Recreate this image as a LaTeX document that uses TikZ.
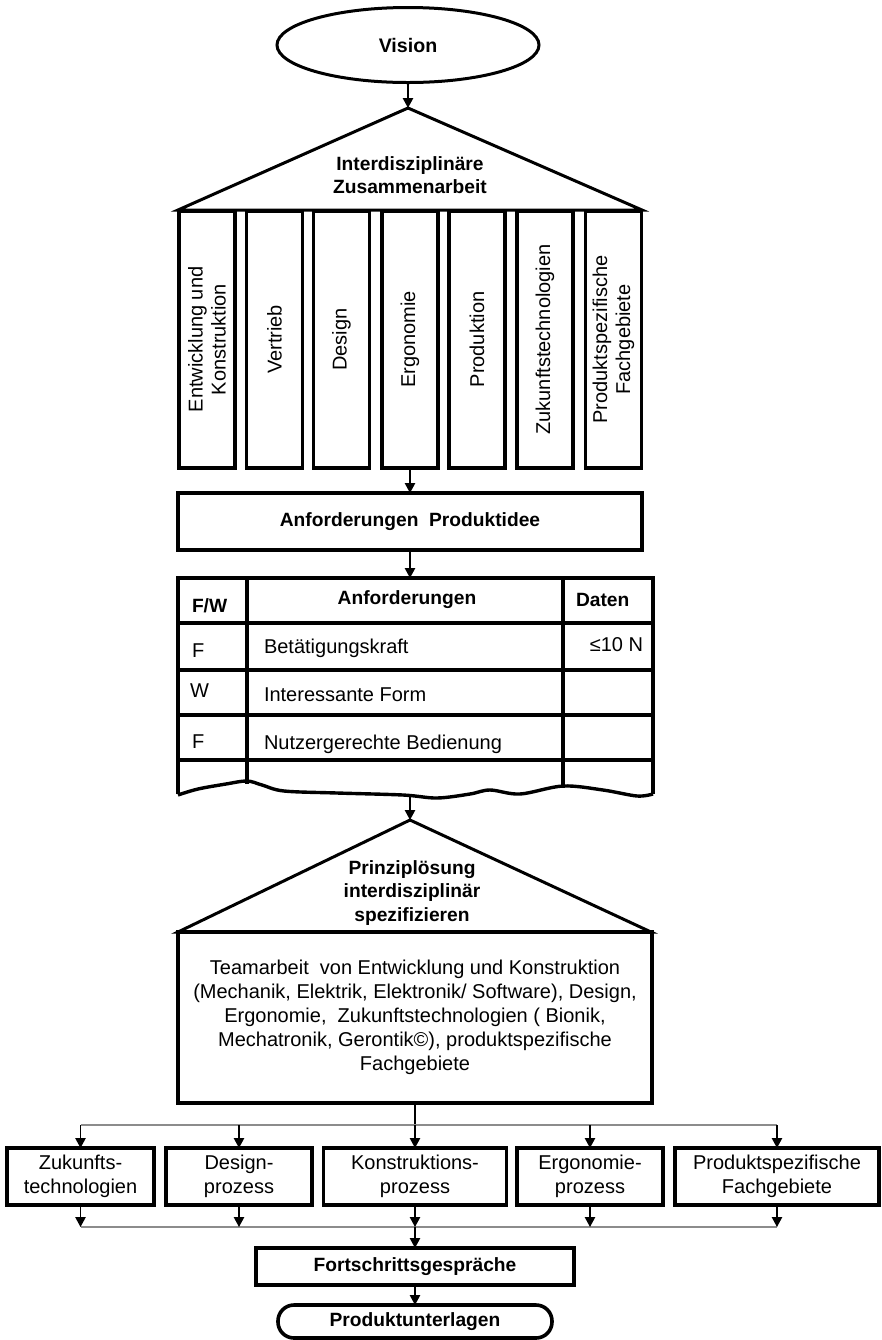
\documentclass[tikz,border=0pt]{standalone}
\usepackage{fontspec}
\setmainfont{Liberation Sans}
\usetikzlibrary{shapes.geometric,arrows.meta}

\begin{document}
\begin{tikzpicture}[x=0.5pt,y=-0.5pt,
  every node/.style={inner sep=0pt, outer sep=0pt},
  heavy/.style={draw, line width=1.8pt},
  box/.style={heavy, rectangle, align=center, font=\fontsize{10}{12}\selectfont},
  hbox/.style={box, font=\bfseries\fontsize{9.6}{11.5}\selectfont},
  pillar/.style={heavy, line width=1.7pt, rectangle, rotate=90,
    minimum width=128.5pt, minimum height=28pt, align=center,
    font=\fontsize{10}{11.5}\selectfont},
  roof/.style={line width=1.5pt, line join=miter},
  grid/.style={line width=1.7pt},
  arr/.style={-{Triangle[length=5pt,width=5.2pt]}, line width=0.7pt},
  bus/.style={line width=0.8pt, draw=black!45},
  cell/.style={font=\fontsize{10}{12}\selectfont},
  hcell/.style={font=\bfseries\fontsize{9.6}{12}\selectfont},
  rooftext/.style={align=center, font=\bfseries\fontsize{9.6}{11.6}\selectfont},
]
\useasboundingbox (0,0) rectangle (882,1340);

% --- vision
\node[heavy, line width=1.5pt, ellipse, minimum width=131pt, minimum height=37.5pt,
      font=\bfseries\fontsize{9.8}{12}\selectfont] (vision) at (408,45) {Vision};

% --- roof over the disciplines
\coordinate (r1top) at (408,108);
\coordinate (r1l) at (178,210);
\coordinate (r1r) at (642,210);
\draw[roof] (r1l) -- (r1top) -- (r1r) -- cycle;
\node[rooftext] (r1txt) at (410,175) {Interdisziplinäre\\Zusammenarbeit};
\draw[arr] (vision.south) -- (r1top);

% --- pillars
\node[pillar] (p1) at (207,339.5) {Entwicklung und\\Konstruktion};
\node[pillar] (p2) at (274.5,339.5) {Vertrieb};
\node[pillar] (p3) at (341.5,339.5) {Design};
\node[pillar] (p4) at (410,339.5) {Ergonomie};
\node[pillar] (p5) at (477,339.5) {Produktion};
\node[pillar] (p6) at (545,339.5) {Zukunftstechnologien};
\node[pillar] (p7) at (613.5,339.5) {Produktspezifische\\Fachgebiete};

% --- requirements
\node[hbox, minimum width=232pt, minimum height=28.5pt] (req) at (410,521.5)
  {Anforderungen\ \ Produktidee};
\draw[arr] (p4.west) -- (req.north);

% --- requirements list (torn off at the bottom)
\coordinate (tabtop) at (410,578);
\coordinate (tabbot) at (410,795);
\draw[arr] (req.south) -- (tabtop);
\draw[grid] (178,794) -- (178,578) -- (653,578) -- (653,794);
\foreach \yy in {623,670,715,760} \draw[grid] (178,\yy) -- (653,\yy);
\draw[grid] (247,578) -- (247,784);
\draw[grid] (563,578) -- (563,788);
\draw[grid, line join=round] plot[smooth, tension=0.55] coordinates
  {(178,795) (198,789) (226,784) (247,781) (262,785) (284,791) (337,793)
   (403,795) (437,798) (470,794) (490,790) (520,794) (563,786) (603,790)
   (637,796) (653,794)};

\node[hcell, anchor=base west] (hfw) at (192,612) {F/W};
\node[hcell, anchor=base] (hanf) at (407,604) {Anforderungen};
\node[hcell, anchor=base west] (hdat) at (576,606) {Daten};
\node[cell, anchor=base west] (c1a) at (192,657) {F};
\node[cell, anchor=base west] (c1b) at (264,653) {Betätigungskraft};
\node[cell, anchor=base east] (c1c) at (643,651) {≤10 N};
\node[cell, anchor=base west] (c2a) at (190,697) {W};
\node[cell, anchor=base west] (c2b) at (264,701) {Interessante Form};
\node[cell, anchor=base west] (c3a) at (192,748) {F};
\node[cell, anchor=base west] (c3b) at (264,749) {Nutzergerechte Bedienung};

% --- roof over the principle solution
\coordinate (r2top) at (410,820);
\coordinate (r2l) at (178,932);
\coordinate (r2r) at (651,932);
\draw[roof] (r2l) -- (r2top) -- (r2r) -- cycle;
\node[rooftext] (r2txt) at (412,893) {Prinziplösung\\interdisziplinär\\spezifizieren};
\draw[arr] (tabbot) -- (r2top);

\node[box, minimum width=237pt, minimum height=85.5pt] (team) at (415,1017.5)
  {Teamarbeit\ \ von Entwicklung und Konstruktion\\
   (Mechanik, Elektrik, Elektronik/ Software), Design,\\
   Ergonomie,\ \ Zukunftstechnologien ( Bionik,\\
   Mechatronik, Gerontik©), produktspezifische\\
   Fachgebiete};

% --- parallel processes
\node[box, minimum width=73.5pt, minimum height=28.5pt] (b1) at (80.5,1176.5) {Zukunfts-\\technologien};
\node[box, minimum width=73pt, minimum height=28.5pt] (b2) at (239,1176.5) {Design-\\prozess};
\node[box, minimum width=91.5pt, minimum height=28.5pt] (b3) at (415,1176.5) {Konstruktions-\\prozess};
\node[box, minimum width=73pt, minimum height=28.5pt] (b4) at (590,1176.5) {Ergonomie-\\prozess};
\node[box, minimum width=102pt, minimum height=28.5pt] (b5) at (777,1176.5) {Produktspezifische\\Fachgebiete};

\coordinate (bt) at (415,1125);
\coordinate (bb) at (415,1227);
\draw[line width=0.7pt] (team.south) -- (bt);
\draw[bus] (b1.north |- bt) -- (b5.north |- bt);
\draw[bus] (b1.south |- bb) -- (b5.south |- bb);
\foreach \b in {b1,b2,b3,b4,b5} {
  \draw[arr] (\b.north |- bt) -- (\b.north);
  \draw[arr] (\b.south) -- (\b.south |- bb);
}

% --- progress reviews and documents
\node[hbox, minimum width=159pt, minimum height=18.5pt] (fort) at (415,1266.5) {Fortschrittsgespräche};
\node[hbox, rounded corners=8pt, minimum width=137pt, minimum height=16.5pt] (prod) at (415,1321.5) {Produktunterlagen};
\draw[arr] (bb) -- (fort.north);
\draw[arr] (fort.south) -- (prod.north);
\end{tikzpicture}
\end{document}
